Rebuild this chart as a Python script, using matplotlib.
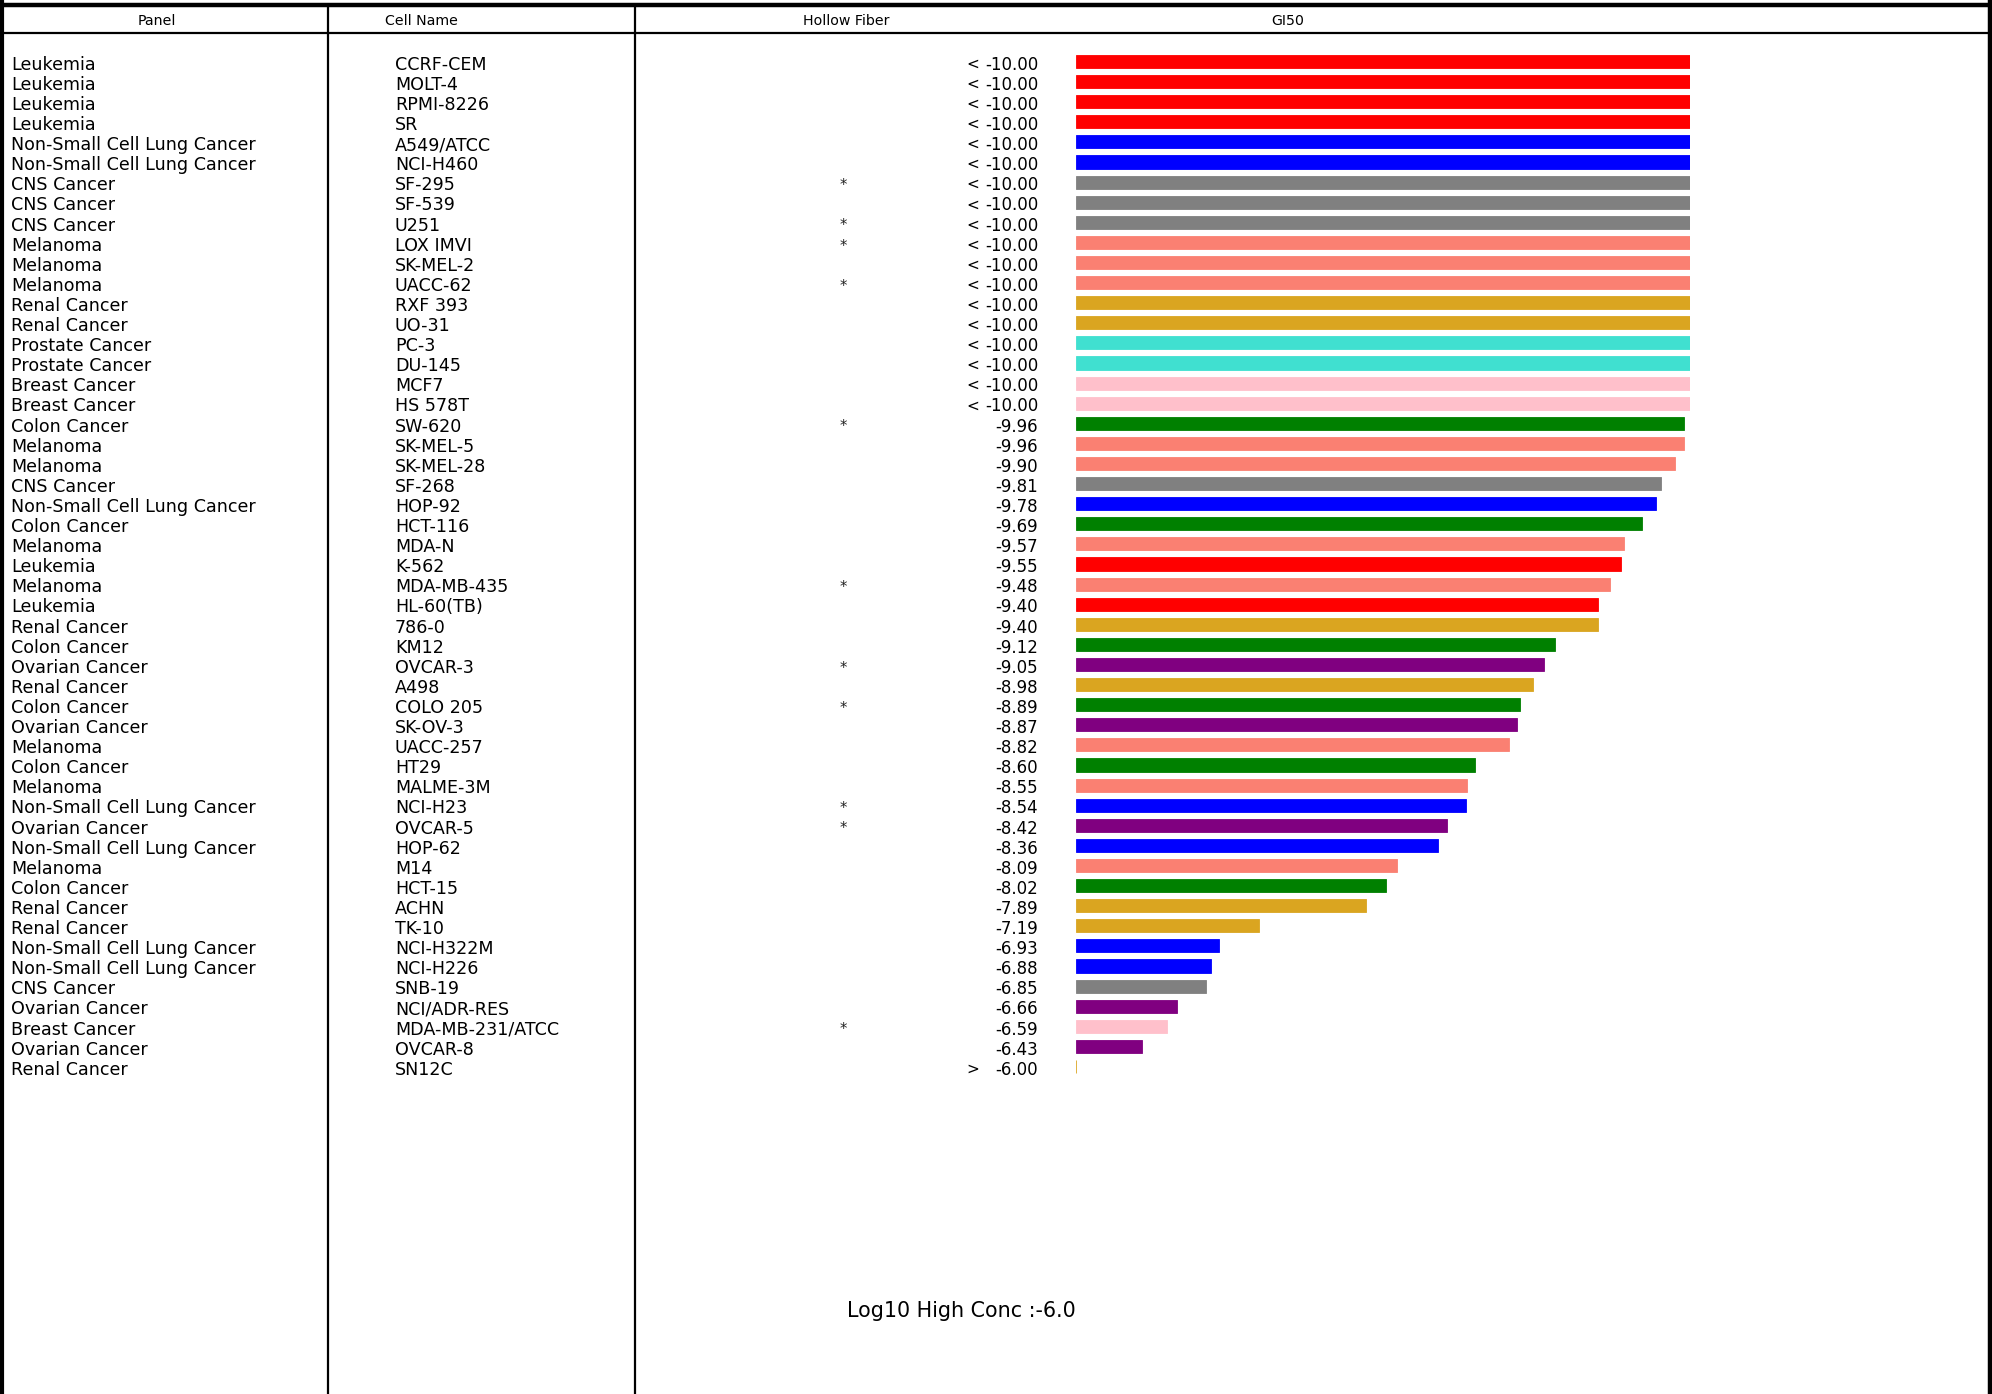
import matplotlib
matplotlib.use("Agg")
import matplotlib.pyplot as plt
import numpy as np

plt.rcParams['font.family'] = ['DejaVu Sans']

panels = ["Leukemia", "Leukemia", "Leukemia", "Leukemia",
          "Non-Small Cell Lung Cancer", "Non-Small Cell Lung Cancer",
          "CNS Cancer", "CNS Cancer", "CNS Cancer",
          "Melanoma", "Melanoma", "Melanoma",
          "Renal Cancer", "Renal Cancer",
          "Prostate Cancer", "Prostate Cancer",
          "Breast Cancer", "Breast Cancer",
          "Colon Cancer", "Melanoma", "Melanoma", "CNS Cancer",
          "Non-Small Cell Lung Cancer", "Colon Cancer", "Melanoma", "Leukemia",
          "Melanoma", "Leukemia", "Renal Cancer", "Colon Cancer",
          "Ovarian Cancer", "Renal Cancer", "Colon Cancer", "Ovarian Cancer",
          "Melanoma", "Colon Cancer", "Melanoma", "Non-Small Cell Lung Cancer",
          "Ovarian Cancer", "Non-Small Cell Lung Cancer", "Melanoma", "Colon Cancer",
          "Renal Cancer", "Renal Cancer", "Non-Small Cell Lung Cancer",
          "Non-Small Cell Lung Cancer", "CNS Cancer", "Ovarian Cancer",
          "Breast Cancer", "Ovarian Cancer", "Renal Cancer"]

cell_names = ["CCRF-CEM", "MOLT-4", "RPMI-8226", "SR",
              "A549/ATCC", "NCI-H460",
              "SF-295", "SF-539", "U251",
              "LOX IMVI", "SK-MEL-2", "UACC-62",
              "RXF 393", "UO-31",
              "PC-3", "DU-145",
              "MCF7", "HS 578T",
              "SW-620", "SK-MEL-5", "SK-MEL-28", "SF-268",
              "HOP-92", "HCT-116", "MDA-N", "K-562",
              "MDA-MB-435", "HL-60(TB)", "786-0", "KM12",
              "OVCAR-3", "A498", "COLO 205", "SK-OV-3",
              "UACC-257", "HT29", "MALME-3M", "NCI-H23",
              "OVCAR-5", "HOP-62", "M14", "HCT-15",
              "ACHN", "TK-10", "NCI-H322M",
              "NCI-H226", "SNB-19", "NCI/ADR-RES",
              "MDA-MB-231/ATCC", "OVCAR-8", "SN12C"]

hollow_fiber = ["", "", "", "", "", "",
                "*", "", "*", "*", "", "*",
                "", "", "", "", "", "",
                "*", "", "", "", "", "", "", "",
                "*", "", "", "", "*", "", "*", "",
                "", "", "", "*", "*", "", "", "",
                "", "", "", "", "", "", "*", "", ""]

qualifiers = ["<"] * 18 + [""] * 32 + [">"]

gi50 = [-10.00] * 18 + [-9.96, -9.96, -9.90, -9.81, -9.78, -9.69, -9.57, -9.55,
                        -9.48, -9.40, -9.40, -9.12, -9.05, -8.98, -8.89, -8.87,
                        -8.82, -8.60, -8.55, -8.54, -8.42, -8.36, -8.09, -8.02,
                        -7.89, -7.19, -6.93, -6.88, -6.85, -6.66, -6.59, -6.43,
                        -6.00]

header_labels = ["Panel", "Cell Name", "Hollow Fiber", "GI50"]
high_conc = -6.0

panel_colors = {
    "Leukemia": "#FF0000",
    "Non-Small Cell Lung Cancer": "#0000FF",
    "CNS Cancer": "#808080",
    "Melanoma": "#FA8072",
    "Renal Cancer": "#DAA520",
    "Prostate Cancer": "#40E0D0",
    "Breast Cancer": "#FFC0CB",
    "Colon Cancer": "#008000",
    "Ovarian Cancer": "#800080",
}

W, H = 1992, 1394
fig = plt.figure(figsize=(W / 100, H / 100), dpi=100)

# row geometry (pixels)
row0, dy = 61.5, 20.1
ylim = ((H - row0) / dy, -row0 / dy)

rows = np.arange(len(cell_names))

# frame axes in pixel coordinates
fax = fig.add_axes([0, 0, 1, 1])
fax.set_xlim(0, W)
fax.set_ylim(H, 0)
fax.axis("off")
lk = dict(color="black", solid_capstyle="butt")
fax.plot([0, W], [5, 5], lw=3.2, **lk)
fax.plot([0, W], [33, 33], lw=1.6, **lk)
fax.plot([1.8, 1.8], [0, H], lw=3.0, **lk)
fax.plot([W - 2, W - 2], [0, H], lw=3.2, **lk)
fax.plot([328, 328], [5, H], lw=1.6, **lk)
fax.plot([635, 635], [5, H], lw=1.6, **lk)

for lab, x in zip(header_labels, [157, 421, 846, 1288]):
    fax.text(x, 21, lab, ha="center", va="center", fontsize=10.2)

fax.text(961, 1311, "Log10 High Conc :%.1f" % high_conc, ha="center",
         va="center", fontsize=14.9)

# text axes in row units
tax = fig.add_axes([0, 0, 1, 1])
tax.set_xlim(0, W)
tax.set_ylim(*ylim)
tax.axis("off")
toff = 0.16
fs = 12.6
for r in rows:
    y = r + toff
    tax.text(11, y, panels[r], ha="left", va="center", fontsize=fs)
    tax.text(395, y, cell_names[r], ha="left", va="center", fontsize=fs)
    if hollow_fiber[r]:
        tax.text(843, y + 0.02, hollow_fiber[r], ha="center", va="center",
                 fontsize=10.5, color="#222222")
    if qualifiers[r]:
        tax.text(966, y - 0.03, qualifiers[r], ha="left", va="center", fontsize=11)
    tax.text(1038, y, "%.2f" % gi50[r], ha="right", va="center", fontsize=12)

# bar axes in GI50 units
x0, x1 = 1076 / W, 1690 / W
bax = fig.add_axes([x0, 0, x1 - x0, 1])
bax.set_xlim(high_conc, -10)
bax.set_ylim(*ylim)
bax.axis("off")
vals = np.array(gi50)
cols = [panel_colors[p] for p in panels]
bax.barh(rows, vals - high_conc, left=high_conc, height=0.65,
         color=cols, edgecolor=cols, linewidth=0.6)

fig.savefig("out.png", dpi=100)
